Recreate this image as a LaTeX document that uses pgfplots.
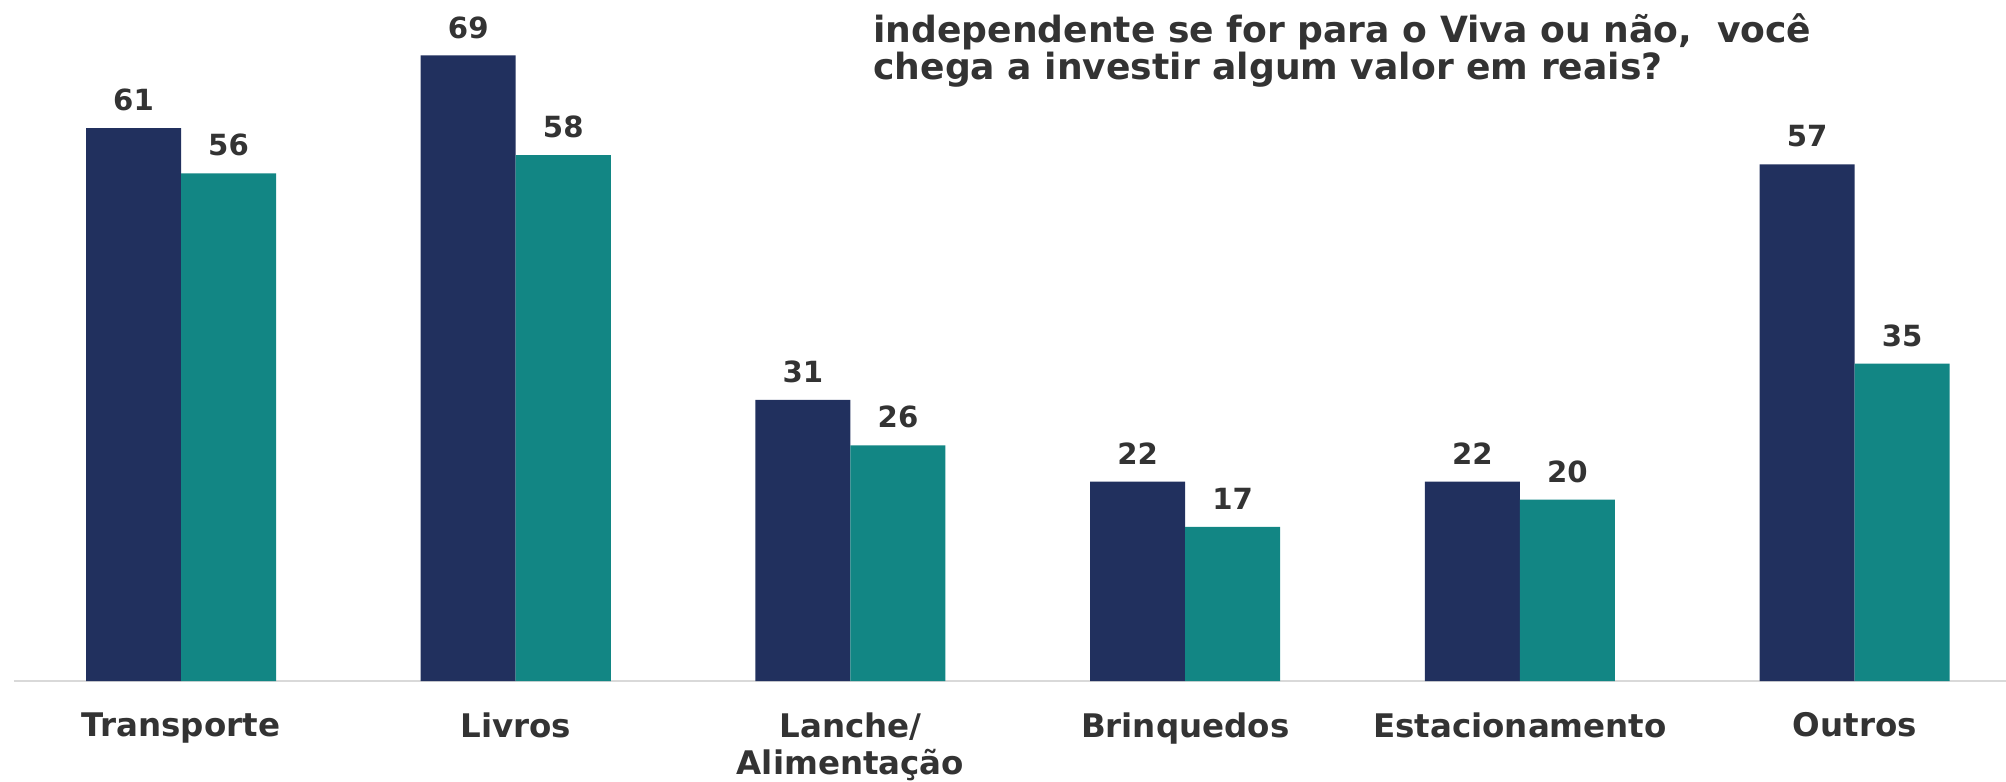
\documentclass[border=0pt]{standalone}
\usepackage{pgfplots}
\pgfplotsset{compat=1.18}
\usepackage{fontspec}
\setmainfont{DejaVu Sans}
\definecolor{navy}{HTML}{21305E}
\definecolor{tealc}{HTML}{128684}
\definecolor{txt}{HTML}{333333}
\definecolor{axl}{HTML}{D9D9D9}
\begin{document}
\begin{tikzpicture}
\begin{axis}[
  at={(0,0)}, anchor=south west,
  scale only axis,
  width=717.12pt, height=245.16pt,
  ybar, bar width=34.2pt,
  xmin=-0.4989, xmax=5.452,
  ymin=0, ymax=75.12,
  enlargelimits=false,
  axis x line=bottom, axis y line=none,
  x axis line style={-, color=axl, line width=0.8pt},
  xtick={0,1,2,3,4,5},
  xticklabels={Transporte, Livros, {Lanche/\\Alimentação}, Brinquedos, Estacionamento, Outros},
  xticklabel style={font=\fontsize{11.7}{13.3}\selectfont\bfseries, color=txt, align=center, inner sep=0pt, anchor=north, yshift=-11.2pt},
  major tick length=0pt,
  ytick=\empty,
  /pgf/number format/assume math mode=true,
  nodes near coords,
  every node near coord/.append style={font=\fontsize{10.5}{12}\selectfont\bfseries, color=txt, inner sep=0pt, yshift=5.9pt},
]
\addplot[fill=navy, draw=none, bar shift=-17.1pt] coordinates {(0,61) (1,69) (2,31) (3,22) (4,22) (5,57)};
\addplot[fill=tealc, draw=none, bar shift=17.1pt] coordinates {(0,56) (1,58) (2,26) (3,17) (4,20) (5,35)};
\end{axis}
\node[anchor=base west, inner sep=0pt, font=\fontsize{13}{13.4}\selectfont\bfseries, color=txt] at (309.2pt,229.68pt) {independente se for para o Viva ou não,\ \ você};
\node[anchor=base west, inner sep=0pt, font=\fontsize{13}{13.4}\selectfont\bfseries, color=txt] at (309.2pt,216.36pt) {chega a investir algum valor em reais?};
\pgfresetboundingbox
\path[use as bounding box] (-5.04pt,-36pt) rectangle (717.12pt,245.16pt);
\end{tikzpicture}
\end{document}
